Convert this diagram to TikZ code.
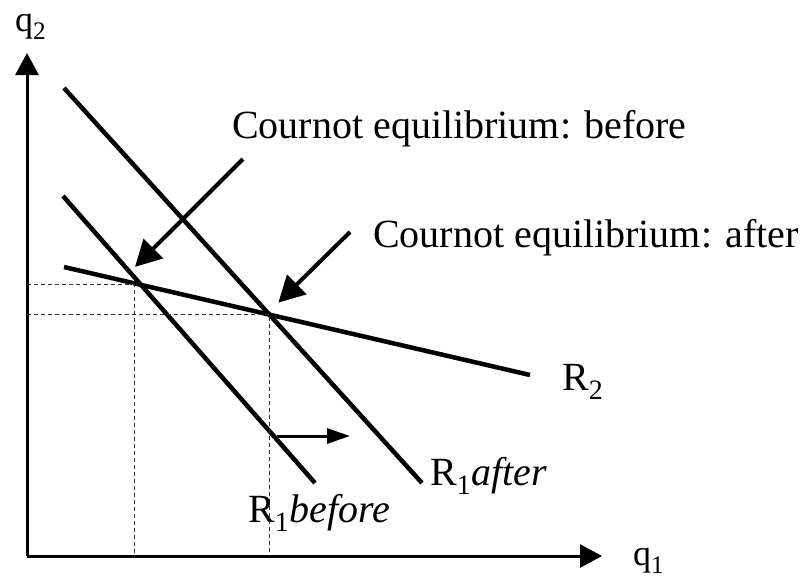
\documentclass[tikz,border=0pt]{standalone}
\usepackage{fontspec}
\setmainfont{Liberation Serif}
\usetikzlibrary{arrows.meta,positioning,calc}

\begin{document}
\begin{tikzpicture}[x=1pt, y=-1pt,
  axis/.style={line width=3pt, -{Triangle[length=22pt,width=23pt]}},
  reaction/.style={line width=4.5pt},
  guide/.style={black!80, line width=0.9pt, dash pattern=on 4pt off 3pt},
  pointer/.style={line width=4pt, -{Triangle[length=26pt,width=27pt]}},
  shiftarrow/.style={line width=3pt, -{Triangle[length=23pt,width=15pt]}},
  lbl/.style={inner sep=0pt, anchor=base west, font=\fontsize{40}{46}\selectfont},
  axislbl/.style={lbl, font=\fontsize{36}{42}\selectfont}
]
\useasboundingbox (0,0) rectangle (803,579);
% axes
\coordinate (origin) at (27,556);
\draw[axis] (origin) -- (27,53) coordinate (ytip);
\draw[axis] (origin) -- (602,556) coordinate (xtip);
\node[axislbl] (q2) at (15,31) {q\textsubscript{2}};
\node[axislbl] (q1) at (633,565) {q\textsubscript{1}};
% reaction functions
\coordinate (after1) at (64,88);
\coordinate (after2) at (422,483);
\coordinate (before1) at (63,196);
\coordinate (before2) at (315,483);
\coordinate (firm2a) at (64,267);
\coordinate (firm2b) at (530,375);
\draw[reaction] (after1) -- (after2);
\draw[reaction] (before1) -- (before2);
\draw[reaction] (firm2a) -- (firm2b);
% equilibria
\coordinate (eqbefore) at (intersection of before1--before2 and firm2a--firm2b);
\coordinate (eqafter) at (intersection of after1--after2 and firm2a--firm2b);
\draw[guide] (origin |- eqbefore) -- ($(eqbefore)+(-7,0)$) -- ($(eqbefore |- origin)+(-7,0)$);
\draw[guide] (origin |- eqafter) -- (eqafter) -- (eqafter |- origin);
% labels
\node[lbl] (cebefore) at (232,138) {Cournot equilibrium: before};
\node[lbl] (ceafter) at (373,247) {Cournot equilibrium: after};
\node[lbl] (r2) at (562,390) {R\textsubscript{2}};
\node[lbl] (r1after) at (430,485) {R\textsubscript{1}\textit{after}};
\node[lbl] (r1before) at (248,522) {R\textsubscript{1}\textit{before}};
% pointers
\coordinate (pbefore) at (243,159);
\coordinate (pafter) at (350,232);
\draw[pointer] (pbefore) -- ($(eqbefore)+(-6,-18)$);
\draw[pointer] (pafter) -- ($(eqafter)+(9,-12)$);
\coordinate (shiftstart) at (277,436);
\draw[shiftarrow] (shiftstart) -- ++(73,0);
\end{tikzpicture}
\end{document}
